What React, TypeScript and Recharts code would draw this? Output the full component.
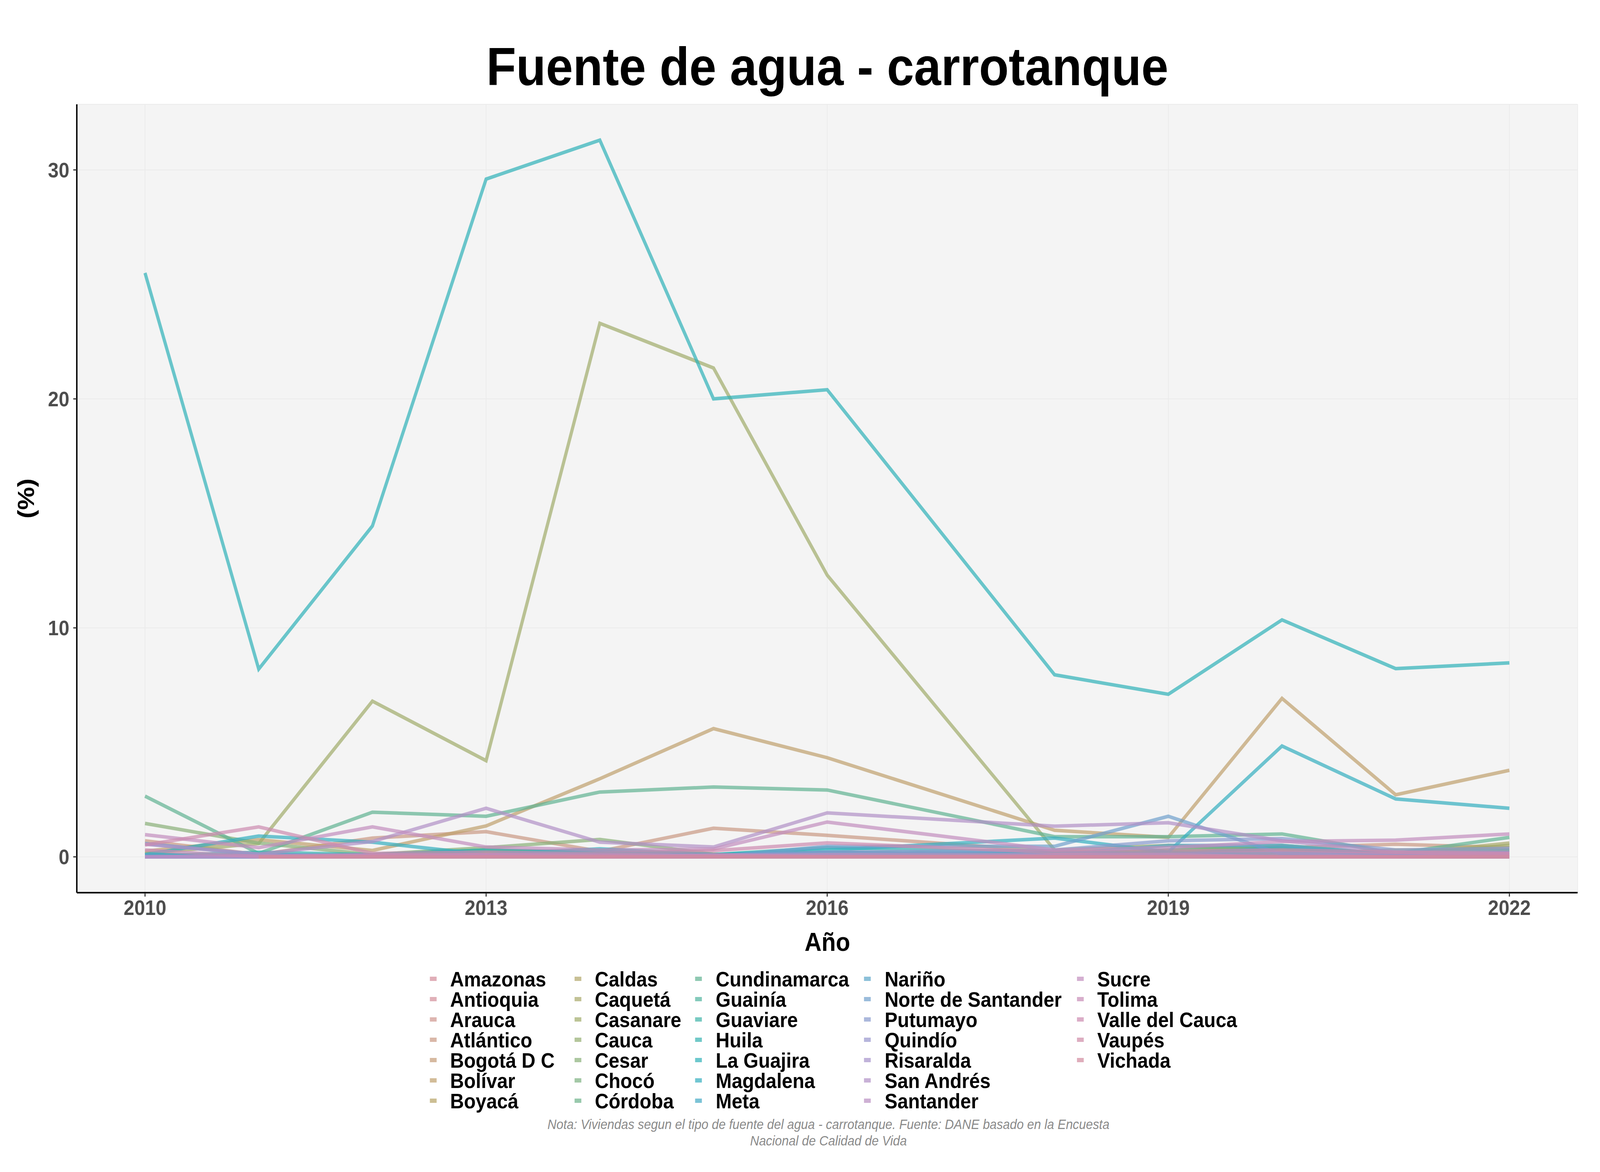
import { LineChart, Line, XAxis, YAxis, CartesianGrid } from "recharts";

// años de la encuesta (no hay 2017)
const YEARS = [2010, 2011, 2012, 2013, 2014, 2015, 2016, 2018, 2019, 2020, 2021, 2022];
const X_TICKS = [2010, 2013, 2016, 2019, 2022];
const Y_TICKS = [0, 10, 20, 30];

// % de viviendas con carrotanque como fuente de agua, por departamento
const amazonas = [0, 0, 0, 0, 0, 0, 0.1, 0, 0, 0, 0, 0];
const antioquia = [0.1, 0.05, 0.05, 0.1, 0.05, 0.05, 0.1, 0.05, 0.05, 0.1, 0.05, 0.05];
const arauca = [0, 0, 0.1, 0.3, 0.1, 0, 0.2, 0.1, 0.1, 0.2, 0.1, 0.1];
const atlantico = [0.7, 0.1, 0.82, 1.1, 0.24, 1.25, 0.94, 0.24, 0.2, 0.4, 0.55, 0.4];
const bogota = [0, 0, 0, 0, 0, 0, 0, 0, 0, 0, 0, 0];
const bolivar = [0.25, 0.75, 0.28, 1.35, 3.41, 5.6, 4.33, 1.16, 0.85, 6.92, 2.71, 3.78];
const boyaca = [0.1, 0, 0.05, 0.1, 0.1, 0, 0.05, 0, 0.1, 0.1, 0.3, 0.3];
const caldas = [0, 0, 0, 0.05, 0, 0, 0, 0, 0.05, 0, 0, 0];
const caqueta = [0, 0.1, 0.05, 0.2, 0.1, 0.05, 0.1, 0.1, 0.2, 0.3, 0.1, 0.6];
const casanare = [0.15, 0.58, 6.8, 4.2, 23.3, 21.35, 12.3, 0.3, 0.5, 0.3, 0.1, 0.5];
const cauca = [0.1, 0.05, 0.1, 0.2, 0.1, 0.1, 0.2, 0.1, 0.3, 0.4, 0.1, 0.2];
const cesar = [1.46, 0.6, 0.1, 0.4, 0.76, 0.12, 0.1, 0.05, 0.1, 0.46, 0.1, 0.2];
const choco = [0, 0.1, 0, 0.2, 0.3, 0.1, 0.1, 0, 0.2, 0.3, 0.1, 0.1];
const cordoba = [0.1, 0, 0.1, 0.3, 0.2, 0.1, 0.2, 0.1, 0.3, 0.5, 0.1, 0.3];
const cundinamarca = [2.65, 0.15, 1.95, 1.77, 2.83, 3.05, 2.92, 0.88, 0.88, 1.0, 0.15, 0.85];
const guainia = [0, 0, 0, 0, 0, 0, 0, 0, 0, 0, 0, 0];
const guaviare = [0, 0, 0.05, 0, 0.1, 0, 0.2, 0.1, 0.2, 0, 0, 0.1];
const huila = [0.05, 0.2, 0.1, 0.3, 0.2, 0.1, 0.4, 0.2, 0.1, 0.2, 0.1, 0.1];
const laGuajira = [25.5, 8.2, 14.45, 29.6, 31.3, 20.0, 20.4, 7.95, 7.1, 10.35, 8.22, 8.47];
const magdalena = [0.1, 0.91, 0.64, 0.1, 0.35, 0.1, 0.3, 0.82, 0.21, 4.84, 2.53, 2.12];
const meta = [0, 0.1, 0.05, 0.1, 0.2, 0.05, 0.1, 0.2, 0.1, 0.4, 0.1, 0.05];
const narino = [0.1, 0.05, 0.1, 0.05, 0.1, 0.05, 0.2, 0.1, 0.5, 0.5, 0.1, 0.2];
const norteSantander = [0.58, 0.1, 0.05, 0.1, 0.05, 0, 0.46, 0.46, 1.77, 0.12, 0.1, 0.15];
const putumayo = [0, 0, 0.05, 0.1, 0.1, 0.05, 0.2, 0.3, 0.7, 0.8, 0.3, 0.37];
const quindio = [0, 0, 0, 0, 0, 0, 0, 0, 0, 0, 0, 0];
const risaralda = [0, 0, 0, 0.05, 0, 0, 0.05, 0, 0, 0.05, 0, 0];
const sanAndres = [0.55, 0.12, 0.67, 2.12, 0.64, 0.43, 1.92, 1.34, 1.49, 0.7, 0.2, 0.2];
const santander = [0, 0.05, 0.05, 0.1, 0.05, 0.05, 0.1, 0.1, 0.1, 0.2, 0.1, 0.15];
const sucre = [0.97, 0.4, 1.31, 0.43, 0.3, 0.34, 1.52, 0.3, 0.4, 0.67, 0.73, 1.0];
const tolima = [0.3, 0, 0.1, 0.05, 0, 0.1, 0, 0.05, 0.1, 0, 0, 0.1];
const valle = [0.52, 1.31, 0.15, 0.2, 0.15, 0.27, 0.61, 0.2, 0.25, 0.3, 0.2, 0.15];
const vaupes = [null, 0, 0, 0, 0, 0, 0, 0, 0, 0, 0, 0];
const vichada = [null, 0, 0, 0, 0, 0, 0, 0, 0, 0, 0, 0];

const DEPARTAMENTOS = [
  "Amazonas", "Antioquia", "Arauca", "Atlántico", "Bogotá D C", "Bolívar", "Boyacá",
  "Caldas", "Caquetá", "Casanare", "Cauca", "Cesar", "Chocó", "Córdoba",
  "Cundinamarca", "Guainía", "Guaviare", "Huila", "La Guajira", "Magdalena", "Meta",
  "Nariño", "Norte de Santander", "Putumayo", "Quindío", "Risaralda", "San Andrés", "Santander",
  "Sucre", "Tolima", "Valle del Cauca", "Vaupés", "Vichada",
];

const VALUES = [
  amazonas, antioquia, arauca, atlantico, bogota, bolivar, boyaca,
  caldas, caqueta, casanare, cauca, cesar, choco, cordoba,
  cundinamarca, guainia, guaviare, huila, laGuajira, magdalena, meta,
  narino, norteSantander, putumayo, quindio, risaralda, sanAndres, santander,
  sucre, tolima, valle, vaupes, vichada,
];

const COLORS = [
  "#D38B9A", "#D38E9A", "#CE958E", "#C99883", "#C59B77", "#BF9F6C", "#B6A265",
  "#B0A568", "#A8A86A", "#9FAB6A", "#94AE70", "#89AF77", "#7CB080", "#6CB289",
  "#5FB292", "#50B39E", "#3EB3A8", "#34B2B0", "#2EB0B8", "#33AEBF", "#43A9C5",
  "#5BA5C9", "#6F9FCC", "#879ACD", "#9795CD", "#A592CA", "#B090C6", "#B98EC2",
  "#C28DBD", "#C78BB6", "#CC8AAF", "#CE8AA6", "#D18A9E",
];

const FONT = "'Liberation Sans', Arial, Helvetica, sans-serif";
const ALPHA = 0.7;
const W = 4500;
const H = 3000;

const data = YEARS.map((year, i) => {
  const row: Record<string, number | null> = { year };
  DEPARTAMENTOS.forEach((d, j) => {
    row[d] = VALUES[j][i];
  });
  return row;
});

// legend layout: 5 columns, 7 rows, filled by column
const LEG_KEY_X = [1209, 1616, 1955, 2430, 3029];
const LEG_TEXT_X = [1266, 1673, 2013, 2488, 3086];
const LEG_TOP = 2525;
const LEG_STEP = 52;

function Overlay() {
  return (
    <svg
      width={W}
      height={H}
      style={{ position: "absolute", left: 0, top: 0, pointerEvents: "none" }}
      fontFamily={FONT}
    >
      <text x={2327} y={218} textAnchor="middle" fontSize={137} fontWeight={700} fill="#000">
        Fuente de agua - carrotanque
      </text>
      <text
        transform="translate(96,1276) rotate(-90)"
        textAnchor="middle"
        fontSize={66}
        fontWeight={700}
        fill="#000"
      >
        (%)
      </text>
      <text x={2327} y={2434} textAnchor="middle" fontSize={66} fontWeight={700} fill="#000">
        Año
      </text>
      {DEPARTAMENTOS.map((d, i) => {
        const col = Math.floor(i / 7);
        const row = i % 7;
        const base = LEG_TOP + row * LEG_STEP;
        return (
          <g key={d}>
            <rect
              x={LEG_KEY_X[col]}
              y={base - 25}
              width={19}
              height={11}
              fill={COLORS[i]}
              fillOpacity={ALPHA}
            />
            <text x={LEG_TEXT_X[col]} y={base} fontSize={54} fontWeight={700} fill="#000">
              {d}
            </text>
          </g>
        );
      })}
      <text x={2330} y={2890} textAnchor="middle" fontSize={35} fontStyle="italic" fill="#8A8A8A">
        Nota: Viviendas segun el tipo de fuente del agua - carrotanque. Fuente: DANE basado en la Encuesta
      </text>
      <text x={2330} y={2932} textAnchor="middle" fontSize={35} fontStyle="italic" fill="#8A8A8A">
        Nacional de Calidad de Vida
      </text>
    </svg>
  );
}

export default function App() {
  // the browser viewport may be narrower than 4500px; squeeze the drawing to fit
  const sx = typeof window !== "undefined" ? Math.min(1, window.innerWidth / W) : 1;
  const sy = typeof window !== "undefined" ? Math.min(1, window.innerHeight / H) : 1;

  return (
    <div
      style={{
        position: "absolute",
        left: 0,
        top: 0,
        width: W,
        height: H,
        background: "#fff",
        fontFamily: FONT,
        transform: `scale(${sx}, ${sy})`,
        transformOrigin: "0 0",
      }}
    >
      <LineChart
        width={W}
        height={H}
        data={data}
        margin={{ top: 267, right: 63, bottom: 655, left: 0 }}
      >
        <CartesianGrid stroke="#EBEBEB" strokeWidth={2} fill="#F4F4F4" fillOpacity={1} />
        <XAxis
          dataKey="year"
          type="number"
          domain={[2009.4, 2022.6]}
          ticks={X_TICKS}
          allowDataOverflow
          height={60}
          axisLine={{ stroke: "#000", strokeWidth: 4 }}
          tickLine={{ stroke: "#333", strokeWidth: 3 }}
          tickSize={10}
          tickMargin={9}
          tick={{ fill: "#4D4D4D", fontSize: 54, fontWeight: 700, fontFamily: FONT }}
        />
        <YAxis
          type="number"
          domain={[-1.565, 32.865]}
          ticks={Y_TICKS}
          allowDataOverflow
          width={216}
          axisLine={{ stroke: "#000", strokeWidth: 4 }}
          tickLine={{ stroke: "#333", strokeWidth: 3 }}
          tickSize={10}
          tickMargin={11}
          tick={{ fill: "#4D4D4D", fontSize: 54, fontWeight: 700, fontFamily: FONT }}
        />
        {DEPARTAMENTOS.map((d, i) => (
          <Line
            key={d}
            type="linear"
            dataKey={d}
            stroke={COLORS[i]}
            strokeOpacity={ALPHA}
            strokeWidth={9}
            dot={false}
            activeDot={false}
            isAnimationActive={false}
          />
        ))}
      </LineChart>
      <Overlay />
    </div>
  );
}
